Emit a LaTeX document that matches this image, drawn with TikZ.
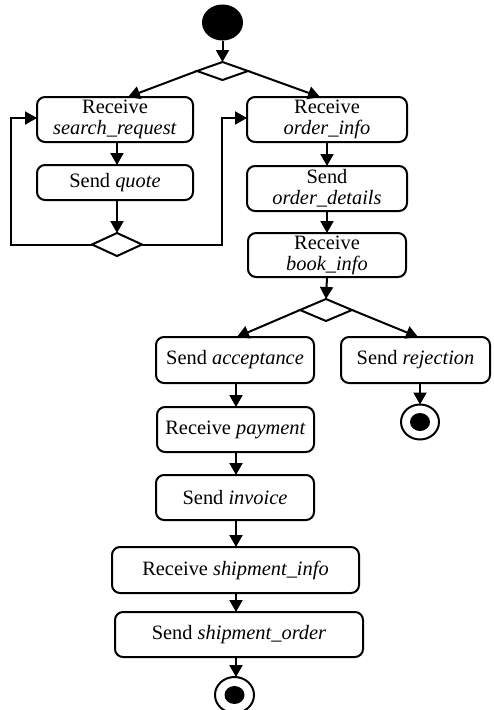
\documentclass[tikz,border=0pt]{standalone}
\usepackage{fontspec}
\setmainfont{Liberation Serif}
\usetikzlibrary{shapes.geometric,arrows.meta}
\begin{document}
\begin{tikzpicture}[x=1pt,y=-1pt,
  lw/.style={line width=2pt},
  act/.style={draw,lw,rounded corners=8pt,inner sep=0pt,outer sep=0pt,align=center,
    font=\fontsize{20.4}{21}\selectfont},
  dec/.style={draw,lw,diamond,inner sep=0pt,outer sep=0pt,fill=white},
  startnode/.style={ellipse,fill=black,inner sep=0pt,outer sep=0pt,minimum width=41pt,minimum height=36pt},
  endnode/.style={ellipse,draw,lw,fill=white,inner sep=0pt,outer sep=0pt,minimum width=38pt,minimum height=35pt},
  arr/.style={lw,-{Triangle[length=12pt,width=13pt]}},
  con/.style={lw}]
\useasboundingbox[fill=white] (0,0) rectangle (493,710);

\node[startnode] (start) at (222.5,22.5) {};
\node[dec,minimum width=51pt,minimum height=18pt] (d1) at (222.5,71) {};
\node[act,minimum width=156pt,minimum height=45pt] (rsr) at (115,119.5) {Receive\\\textit{search\_request}};
\node[act,minimum width=160pt,minimum height=45pt] (roi) at (327,119.5) {Receive\\\textit{order\_info}};
\node[act,minimum width=156pt,minimum height=35pt] (sq) at (115,182.5) {Send \textit{quote}};
\node[dec,minimum width=50pt,minimum height=23pt] (d2) at (117,244.5) {};
\node[act,minimum width=160pt,minimum height=45pt] (sod) at (327,188.5) {Send\\\textit{order\_details}};
\node[act,minimum width=158pt,minimum height=44pt] (rbi) at (327,255) {Receive\\\textit{book\_info}};
\node[dec,minimum width=52pt,minimum height=22pt] (d3) at (326,310) {};
\node[act,minimum width=158pt,minimum height=46pt] (sacc) at (235,360) {Send \textit{acceptance}};
\node[act,minimum width=149pt,minimum height=46pt] (srej) at (415.5,360) {Send \textit{rejection}};
\node[endnode] (e1) at (420,422) {};
\fill (e1.center) ellipse (10pt and 9pt);
\node[act,minimum width=157pt,minimum height=45pt] (rpay) at (235.5,429.5) {Receive \textit{payment}};
\node[act,minimum width=158pt,minimum height=45pt] (sinv) at (235,497.5) {Send \textit{invoice}};
\node[act,minimum width=247pt,minimum height=46pt] (rsi) at (235.5,570) {Receive \textit{shipment\_info}};
\node[act,minimum width=248pt,minimum height=45pt] (sso) at (239,634.5) {Send \textit{shipment\_order}};
\node[endnode,minimum width=39pt,minimum height=36pt] (e2) at (234.5,695) {};
\fill (e2.center) ellipse (10pt and 9pt);

\coordinate (l1) at (11,244.5);
\coordinate (r1) at (222,244.5);
\coordinate (c1) at (236,0);

\draw[arr] (start.south) -- (d1.north);
\draw[arr] (d1.west) -- ([xshift=13pt]rsr.north);
\draw[arr] (d1.east) -- ([xshift=-7pt]roi.north);
\draw[arr] ([xshift=2pt]rsr.south) -- ([xshift=2pt]sq.north);
\draw[arr] ([xshift=2pt]sq.south) -- (d2.north);
\draw[arr] (d2.west) -- (l1) |- ([yshift=1.5pt]rsr.west);
\draw[arr] (d2.east) -- (r1) |- ([yshift=1.5pt]roi.west);
\draw[arr] (roi.south) -- (sod.north);
\draw[arr] (sod.south) -- (rbi.north);
\draw[arr] (rbi.south) -- (d3.north);
\draw[arr] (d3.west) -- ([xshift=2pt]sacc.north);
\draw[arr] (d3.east) -- ([xshift=2.5pt]srej.north);
\draw[arr] ([xshift=4.5pt]srej.south) -- (e1.north);
\draw[arr] (sacc.south -| c1) -- (rpay.north -| c1);
\draw[arr] (rpay.south -| c1) -- (sinv.north -| c1);
\draw[arr] (sinv.south -| c1) -- (rsi.north -| c1);
\draw[arr] (rsi.south -| c1) -- (sso.north -| c1);
\draw[arr] (sso.south -| c1) -- (e2.north -| c1);
\end{tikzpicture}
\end{document}
